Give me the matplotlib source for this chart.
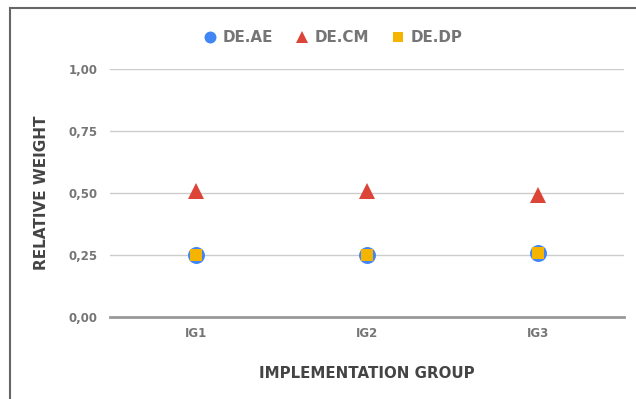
import matplotlib
matplotlib.use('Agg')
import matplotlib.pyplot as plt
from matplotlib.lines import Line2D

# Data
groups = ['IG1', 'IG2', 'IG3']
de_ae = [0.25, 0.25, 0.26]
de_cm = [0.51, 0.51, 0.49]
de_dp = [0.25, 0.25, 0.26]

y_ticks = [0.0, 0.25, 0.5, 0.75, 1.0]
y_labels = ['0,00', '0,25', '0,50', '0,75', '1,00']

blue = '#4285F4'
red = '#DB4437'
yellow = '#F4B400'
tick_gray = '#757575'
title_gray = '#444444'

plt.rcParams['font.family'] = ['DejaVu Sans']

fig = plt.figure(figsize=(6.36, 3.99), dpi=100)
ax = fig.add_axes([110 / 636, 1 - 317 / 399, 514 / 636, 248 / 399])

x = list(range(len(groups)))
ax.plot(x, de_ae, linestyle='none', marker='o', markersize=12.2, markeredgewidth=0,
        color=blue, label='DE.AE', clip_on=False, zorder=3)
ax.plot(x, de_cm, linestyle='none', marker='^', markersize=11.6, markeredgewidth=0,
        color=red, label='DE.CM', clip_on=False, zorder=3)
ax.plot(x, de_dp, linestyle='none', marker='s', markersize=8.6, markeredgewidth=0,
        color=yellow, label='DE.DP', clip_on=False, zorder=4)

ax.set_xlim(-0.5, 2.5)
ax.set_ylim(0, 1)
ax.set_yticks(y_ticks)
ax.set_yticklabels(y_labels)
ax.set_xticks(x)
ax.set_xticklabels(groups)

for yv in y_ticks[1:]:
    ax.axhline(yv, color='#cccccc', linewidth=1, zorder=1)
ax.axhline(0, color='#999999', linewidth=2, zorder=2, clip_on=False)

for s in ax.spines.values():
    s.set_visible(False)
ax.tick_params(axis='both', length=0, labelcolor=tick_gray, labelsize=8.5)
ax.tick_params(axis='y', pad=9)
ax.tick_params(axis='x', pad=7)
for lab in ax.get_xticklabels() + ax.get_yticklabels():
    lab.set_fontweight('bold')

ax.set_ylabel('RELATIVE WEIGHT', fontsize=11, fontweight='bold', color=title_gray, labelpad=14)
ax.set_xlabel('IMPLEMENTATION GROUP', fontsize=10.8, fontweight='bold', color=title_gray, labelpad=19)

handles = [
    Line2D([], [], linestyle='none', marker='o', markersize=8.6, markeredgewidth=0, color=blue),
    Line2D([], [], linestyle='none', marker='^', markersize=9.1, markeredgewidth=0, color=red),
    Line2D([], [], linestyle='none', marker='s', markersize=6.5, markeredgewidth=0, color=yellow),
]
leg = fig.legend(handles, ['DE.AE', 'DE.CM', 'DE.DP'], loc='center', ncol=3,
                 bbox_to_anchor=(0.523, 1 - 38 / 399), frameon=False,
                 handletextpad=0.35, columnspacing=1.4, handlelength=1.0,
                 prop={'weight': 'bold', 'size': 10.9})
for t in leg.get_texts():
    t.set_color(tick_gray)

# outer border (left and top)
fig.add_artist(Line2D([9.5 / 636, 9.5 / 636], [0, 1 - 7.5 / 399], color='#666666', linewidth=1.5))
fig.add_artist(Line2D([9.5 / 636, 1], [1 - 7.5 / 399, 1 - 7.5 / 399], color='#666666', linewidth=1.5))

fig.savefig('out.png', dpi=100)
